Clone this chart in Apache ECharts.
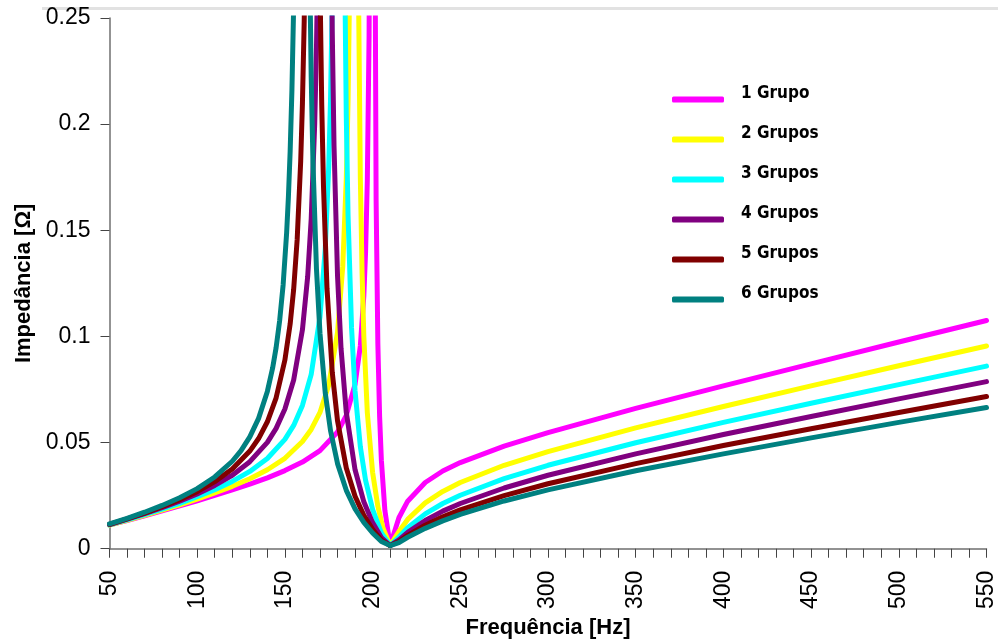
<!DOCTYPE html>
<html>
<head>
<meta charset="utf-8">
<script src="https://cdn.jsdelivr.net/npm/echarts@6/dist/echarts.min.js"></script>
<style>
  html, body { margin: 0; padding: 0; background: #fff; }
  #chart { width: 998px; height: 644px; }
</style>
</head>
<body>
<div id="chart"></div>
<script>
// names and colours of the six curves
const groupNames = ['1 Grupo', '2 Grupos', '3 Grupos', '4 Grupos', '5 Grupos', '6 Grupos'];
const groupColors = ['#ff00ff', '#ffff00', '#00ffff', '#800080', '#800000', '#008080'];

// frequency [Hz] / impedance [ohm]
const freq1 = [50, 60, 70, 80, 90, 100, 110, 120, 130, 140, 150, 160, 170, 180, 185, 190, 193, 195, 196, 197, 198, 199, 201, 202, 203, 204, 205, 207, 210, 215, 220, 230, 240, 250, 275, 300, 350, 400, 450, 500, 550];
const imp1 = [0.0112, 0.0133, 0.0155, 0.0178, 0.0202, 0.0226, 0.0251, 0.0277, 0.0304, 0.0334, 0.0368, 0.0408, 0.0462, 0.0550, 0.0628, 0.0774, 0.0955, 0.1191, 0.1397, 0.1738, 0.2420, 0.4457, 0.3680, 0.1645, 0.0964, 0.0623, 0.0417, 0.0181, 0.0015, 0.0146, 0.0224, 0.0312, 0.0366, 0.0406, 0.0483, 0.0547, 0.0661, 0.0767, 0.0871, 0.0974, 0.1075];

const freq2 = [50, 60, 70, 80, 90, 100, 110, 120, 130, 140, 150, 160, 165, 170, 175, 180, 183, 185, 186, 187, 188, 191, 192, 193, 194, 195, 197, 200, 203, 206, 210, 215, 220, 230, 240, 250, 275, 300, 350, 400, 450, 500, 550];
const imp2 = [0.0111, 0.0134, 0.0157, 0.0182, 0.0207, 0.0234, 0.0263, 0.0294, 0.0330, 0.0372, 0.0426, 0.0505, 0.0562, 0.0642, 0.0771, 0.1019, 0.1331, 0.1744, 0.2104, 0.2702, 0.3898, 0.4500, 0.2600, 0.1750, 0.1300, 0.1000, 0.0640, 0.0360, 0.0200, 0.0095, 0.0015, 0.0081, 0.0138, 0.0216, 0.0270, 0.0312, 0.0393, 0.0457, 0.0569, 0.0670, 0.0767, 0.0862, 0.0955];

const freq3 = [50, 60, 70, 80, 90, 100, 110, 120, 130, 140, 150, 155, 160, 165, 170, 173, 175, 176, 177, 178, 184, 185, 186, 188, 190, 193, 196, 200, 205, 210, 215, 220, 230, 240, 250, 275, 300, 350, 400, 450, 500, 550];
const imp3 = [0.0112, 0.0136, 0.0161, 0.0187, 0.0214, 0.0245, 0.0278, 0.0317, 0.0364, 0.0425, 0.0515, 0.0581, 0.0675, 0.0821, 0.1092, 0.1413, 0.1802, 0.2112, 0.2576, 0.3349, 0.2809, 0.2036, 0.1572, 0.1040, 0.0743, 0.0481, 0.0322, 0.0185, 0.0075, 0.0015, 0.0055, 0.0099, 0.0164, 0.0213, 0.0252, 0.0330, 0.0393, 0.0499, 0.0595, 0.0685, 0.0773, 0.0860];

const freq4 = [50, 60, 70, 80, 90, 100, 110, 120, 130, 140, 145, 150, 155, 160, 163, 165, 167, 168, 169, 170, 176, 177, 178, 180, 182, 185, 190, 195, 200, 205, 210, 215, 220, 230, 240, 250, 275, 300, 350, 400, 450, 500, 550];
const imp4 = [0.0114, 0.0139, 0.0165, 0.0193, 0.0224, 0.0258, 0.0298, 0.0346, 0.0410, 0.0501, 0.0567, 0.0658, 0.0795, 0.1032, 0.1283, 0.1554, 0.2003, 0.2361, 0.2897, 0.3789, 0.3329, 0.2437, 0.1900, 0.1286, 0.0944, 0.0642, 0.0372, 0.0221, 0.0123, 0.0053, 0.0015, 0.0042, 0.0077, 0.0133, 0.0177, 0.0213, 0.0286, 0.0346, 0.0447, 0.0538, 0.0623, 0.0706, 0.0787];

const freq5 = [50, 60, 70, 80, 90, 100, 110, 120, 130, 135, 140, 145, 150, 153, 155, 157, 159, 160, 161, 162, 163, 169, 170, 171, 172, 174, 177, 180, 185, 190, 195, 200, 205, 210, 215, 220, 230, 240, 250, 275, 300, 350, 400, 450, 500, 550];
const imp5 = [0.0115, 0.0141, 0.0168, 0.0198, 0.0231, 0.0269, 0.0316, 0.0376, 0.0460, 0.0519, 0.0598, 0.0711, 0.0889, 0.1059, 0.1222, 0.1457, 0.1824, 0.2099, 0.2483, 0.3058, 0.4016, 0.3624, 0.2667, 0.2092, 0.1708, 0.1227, 0.0831, 0.0603, 0.0380, 0.0247, 0.0157, 0.0091, 0.0041, 0.0015, 0.0034, 0.0063, 0.0111, 0.0150, 0.0183, 0.0250, 0.0306, 0.0401, 0.0486, 0.0565, 0.0642, 0.0717];

const freq6 = [50, 60, 70, 80, 90, 100, 110, 120, 125, 130, 135, 140, 143, 145, 147, 149, 151, 152, 153, 154, 155, 156, 157, 163, 164, 165, 166, 168, 170, 173, 176, 180, 185, 190, 195, 200, 205, 210, 215, 220, 230, 240, 250, 275, 300, 350, 400, 450, 500, 550];
const imp6 = [0.0117, 0.0143, 0.0172, 0.0204, 0.0240, 0.0283, 0.0338, 0.0412, 0.0462, 0.0527, 0.0614, 0.0741, 0.0851, 0.0948, 0.1074, 0.1244, 0.1489, 0.1657, 0.1873, 0.2159, 0.2560, 0.3161, 0.4162, 0.3822, 0.2822, 0.2221, 0.1820, 0.1317, 0.1015, 0.0734, 0.0557, 0.0401, 0.0275, 0.0188, 0.0124, 0.0074, 0.0034, 0.0015, 0.0029, 0.0054, 0.0096, 0.0131, 0.0162, 0.0225, 0.0277, 0.0367, 0.0447, 0.0522, 0.0595, 0.0665];

const freqs = [freq1, freq2, freq3, freq4, freq5, freq6];
const imps = [imp1, imp2, imp3, imp4, imp5, imp6];

const chart = echarts.init(document.getElementById('chart'));

const axisFont = { fontFamily: 'Liberation Sans', fontSize: 23, color: '#000' };
const titleFont = { fontFamily: 'Liberation Sans', fontSize: 22, fontWeight: 'bold', color: '#000' };
const legendFont = "'DejaVu Sans Condensed', 'Liberation Sans', sans-serif";

const option = {
  animation: false,
  backgroundColor: '#fff',
  graphic: [
    // faint frame line along the top of the picture
    { type: 'rect', left: 42, top: 7, shape: { width: 960, height: 3 }, style: { fill: '#e2e2e2' }, z: -1 }
  ],
  grid: { left: 109.5, right: 11, top: 18, bottom: 88 },
  legend: {
    orient: 'vertical',
    left: 667,
    top: 80,
    icon: 'roundRect',
    itemWidth: 52,
    itemHeight: 6,
    itemGap: 11,
    data: groupNames,
    formatter: name => '{t|' + name + '}',
    textStyle: {
      fontFamily: legendFont,
      fontWeight: 'bold',
      fontSize: 17,
      color: '#000',
      rich: {
        t: {
          fontFamily: legendFont,
          fontWeight: 'bold',
          fontSize: 17,
          color: '#000',
          lineHeight: 20,
          padding: [0, 0, 12, 12]
        }
      }
    }
  },
  xAxis: {
    type: 'value',
    min: 50,
    max: 550,
    interval: 50,
    name: 'Frequência [Hz]',
    nameLocation: 'middle',
    nameGap: 62,
    nameTextStyle: titleFont,
    axisLine: { show: true, onZero: false, lineStyle: { color: '#6f6f6f', width: 1.5 } },
    axisTick: { show: true, inside: false, length: 9, lineStyle: { color: '#444', width: 1 } },
    minorTick: { show: true, splitNumber: 5, length: 9, lineStyle: { color: '#444', width: 1 } },
    splitLine: { show: false },
    axisLabel: Object.assign({ rotate: 90, margin: 22 }, axisFont)
  },
  yAxis: {
    type: 'value',
    min: 0,
    max: 0.25,
    interval: 0.05,
    name: 'Impedância [Ω]',
    nameLocation: 'middle',
    nameGap: 75,
    nameTextStyle: titleFont,
    axisLine: { show: true, lineStyle: { color: '#6f6f6f', width: 1.5 } },
    axisTick: { show: true, inside: false, length: 9, lineStyle: { color: '#444', width: 1 } },
    splitLine: { show: false },
    axisLabel: Object.assign({ margin: 19 }, axisFont)
  },
  series: groupNames.map((name, i) => ({
    name: name,
    type: 'line',
    symbol: 'none',
    clip: true,
    color: groupColors[i],
    lineStyle: { width: 5, color: groupColors[i], cap: 'round', join: 'round' },
    data: freqs[i].map((f, j) => [f, imps[i][j]])
  }))
};

chart.setOption(option);
</script>
</body>
</html>
